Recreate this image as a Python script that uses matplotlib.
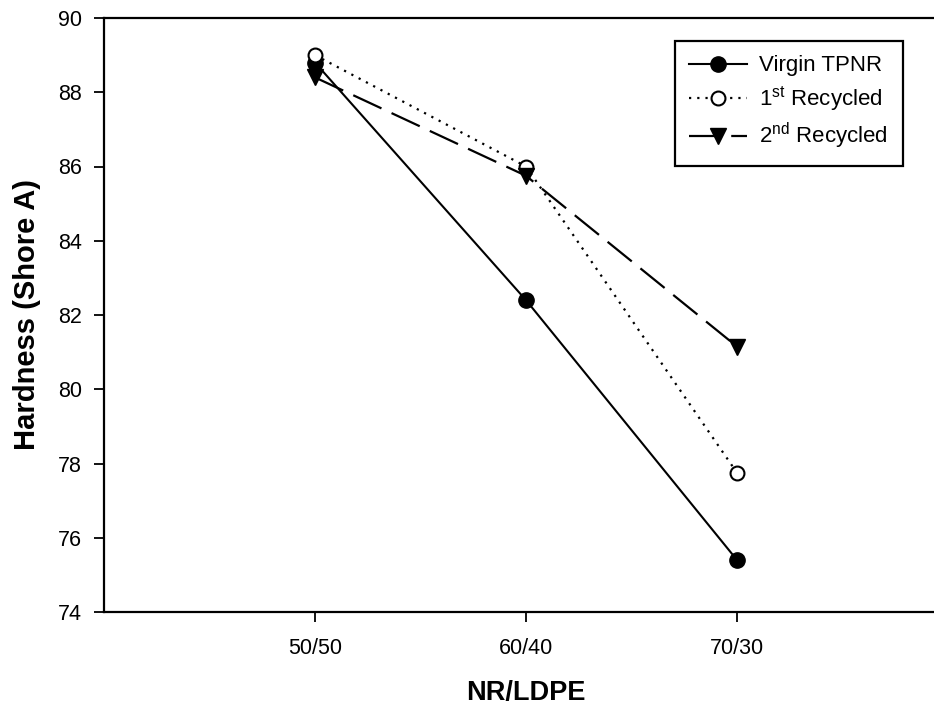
import matplotlib.pyplot as plt
import numpy as np

plt.rcParams['font.family'] = ['Liberation Sans', 'DejaVu Sans']
plt.rcParams['mathtext.fontset'] = 'custom'
plt.rcParams['mathtext.rm'] = 'Liberation Sans'

ratios = ['50/50', '60/40', '70/30']
virgin = [88.8, 82.4, 75.4]
recycled_1 = [89.0, 86.0, 77.75]
recycled_2 = [88.4, 85.75, 81.15]

fig = plt.figure(figsize=(9.34, 7.1), dpi=100)
# axes runs off the right edge of the figure
ax = fig.add_axes([104 / 934, 1 - 612 / 710, 844 / 934, 594 / 710])

x = np.arange(1, len(ratios) + 1)
ax.plot(x, virgin, color='black', lw=1.5, ls='-', marker='o', ms=11,
        mfc='black', mec='black', label='Virgin TPNR')
ax.plot(x, recycled_1, color='black', lw=1.6, ls=(0, (1, 2.7)), marker='o', ms=10,
        mfc='white', mec='black', mew=1.5, label=r'1$^{\mathrm{st}}$ Recycled')
ax.plot(x, recycled_2, color='black', lw=1.6, ls=(0, (14, 5)), marker='v', ms=11,
        mfc='black', mec='black', label=r'2$^{\mathrm{nd}}$ Recycled')

ax.set_xlim(0, 4)
ax.set_ylim(74, 90)
ax.set_xticks(x)
ax.set_xticklabels(ratios)
ax.set_yticks(np.arange(74, 91, 2))
ax.tick_params(direction='out', length=7, width=1.3, labelsize=15.5, colors='black')
ax.tick_params(axis='x', pad=12)
ax.tick_params(axis='y', pad=9)
for s in ax.spines.values():
    s.set_linewidth(1.6)

ax.set_xlabel('NR/LDPE', fontsize=19.5, fontweight='bold', labelpad=15)
ax.set_ylabel('Hardness (Shore A)', fontsize=21, fontweight='bold', labelpad=12)

leg = ax.legend(loc='upper left', bbox_to_anchor=(675 / 934, 1 - 41 / 710),
                bbox_transform=fig.transFigure, borderaxespad=0,
                fontsize=16, frameon=True, fancybox=False, handlelength=2.6,
                borderpad=0.65, labelspacing=0.35, handletextpad=0.55)
leg.get_frame().set_edgecolor('black')
leg.get_frame().set_linewidth(1.6)
leg.get_frame().set_alpha(1)

fig.savefig('out.png', dpi=100)
